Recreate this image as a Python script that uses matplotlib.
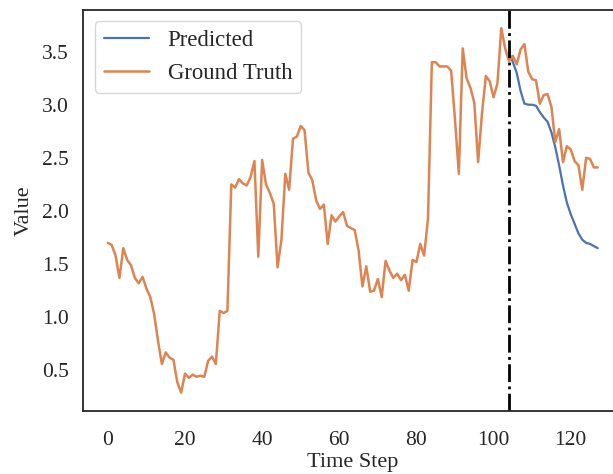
"""
Forecast vs ground truth line chart.
"""

import matplotlib
matplotlib.use("Agg")
import matplotlib.pyplot as plt
import seaborn as sns

# Ground truth series, one value per time step (0..127)
ground_truth = [
    1.70, 1.68, 1.58, 1.37, 1.65, 1.54, 1.49, 1.37, 1.32, 1.38,
    1.27, 1.19, 1.03, 0.78, 0.56, 0.67, 0.62, 0.60, 0.39, 0.29,
    0.47, 0.43, 0.46, 0.44, 0.45, 0.44, 0.59, 0.63, 0.56, 1.06,
    1.04, 1.06, 2.25, 2.22, 2.30, 2.26, 2.24, 2.32, 2.47, 1.57,
    2.48, 2.25, 2.17, 2.07, 1.47, 1.73, 2.35, 2.20, 2.68, 2.70,
    2.80, 2.76, 2.36, 2.29, 2.10, 2.02, 2.06, 1.69, 1.96, 1.90,
    1.95, 1.99, 1.86, 1.84, 1.82, 1.63, 1.29, 1.48, 1.24, 1.25,
    1.36, 1.19, 1.53, 1.44, 1.37, 1.41, 1.35, 1.40, 1.25, 1.54,
    1.52, 1.69, 1.58, 1.93, 3.40, 3.40, 3.36, 3.36, 3.36, 3.32,
    2.86, 2.35, 3.53, 3.25, 3.16, 3.02, 2.46, 2.92, 3.27, 3.22,
    3.07, 3.20, 3.72, 3.53, 3.41, 3.46, 3.38, 3.52, 3.57, 3.31,
    3.24, 3.23, 3.01, 3.09, 3.10, 2.98, 2.65, 2.77, 2.46, 2.61,
    2.58, 2.47, 2.43, 2.20, 2.50, 2.49, 2.41, 2.41,
]

# Model forecast, starting at the split point
forecast_start = 104
predicted = [
    3.49, 3.40, 3.30, 3.13, 3.01, 3.00, 3.00, 2.99, 2.93, 2.88,
    2.84, 2.74, 2.60, 2.43, 2.24, 2.08, 1.97, 1.88, 1.79, 1.73,
    1.70, 1.69, 1.67, 1.65,
]

x_ticks = [0, 20, 40, 60, 80, 100, 120]
y_ticks = [0.5, 1.0, 1.5, 2.0, 2.5, 3.0, 3.5]

BLUE = "#4C72B0"
ORANGE = "#DD8452"


def main():
    sns.set_style("white")
    plt.rcParams["font.family"] = ["Liberation Serif", "DejaVu Serif"]

    fig = plt.figure(figsize=(6.13, 4.74), dpi=100)
    # axes runs past the right edge, like the cropped original
    ax = fig.add_axes([0.136, 0.133, 0.879, 0.846])

    steps = list(range(len(ground_truth)))
    pred_steps = list(range(forecast_start, forecast_start + len(predicted)))

    ax.plot(pred_steps, predicted, color=BLUE, lw=1.6, label="Predicted")
    ax.plot(steps, ground_truth, color=ORANGE, lw=1.8, label="Ground Truth")
    ax.axvline(forecast_start, color="black", linestyle="-.", lw=2.0)

    ax.set_xticks(x_ticks)
    ax.set_yticks(y_ticks)
    ax.tick_params(axis="both", labelsize=15.5)
    ax.tick_params(axis="x", pad=11)
    ax.tick_params(axis="y", pad=7)
    ax.set_xlabel("Time Step", fontsize=16, labelpad=2)
    ax.set_ylabel("Value", fontsize=16, labelpad=6)
    for spine in ax.spines.values():
        spine.set_color("0.15")
        spine.set_linewidth(1.3)

    ax.legend(loc="upper left", fontsize=16.4)

    fig.savefig("out.png", dpi=100)
    plt.close(fig)


if __name__ == "__main__":
    main()
